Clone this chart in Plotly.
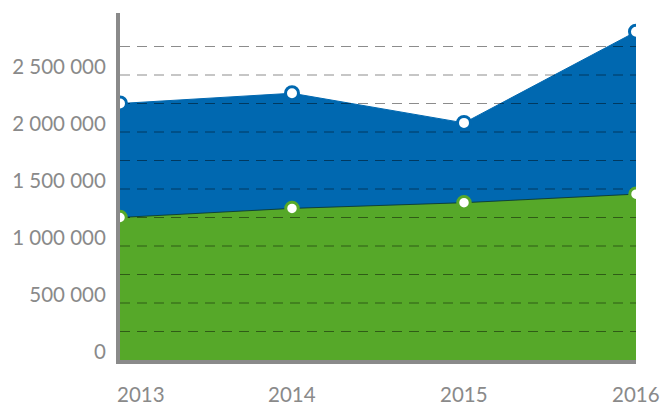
import plotly.graph_objects as go

years = [2013, 2014, 2015, 2016]
year_labels = ["2013", "2014", "2015", "2016"]
blue_values = [2250000, 2340000, 2080000, 2880000]
green_values = [1250000, 1330000, 1380000, 1455000]
y_tick_values = [0, 500000, 1000000, 1500000, 2000000, 2500000]
y_tick_labels = ["0", "500 000", "1 000 000", "1 500 000", "2 000 000", "2 500 000"]
grid_values = [250000, 500000, 750000, 1000000, 1250000, 1500000, 1750000,
               2000000, 2250000, 2500000, 2750000]

BLUE = "#0068b0"
GREEN = "#56a829"
GRAY = "#8a8a8a"

fig = go.Figure()

# filled areas
fig.add_trace(go.Scatter(x=years, y=blue_values, mode="lines", fill="tozeroy",
                         fillcolor=BLUE, line=dict(color=BLUE, width=1),
                         hoverinfo="skip", showlegend=False))
fig.add_trace(go.Scatter(x=years, y=green_values, mode="lines", fill="tozeroy",
                         fillcolor=GREEN, line=dict(color="rgba(10,50,40,0.8)", width=1),
                         hoverinfo="skip", showlegend=False))

# dashed grid lines drawn over the fills
gx, gy = [], []
for v in grid_values:
    gx += [years[0], years[-1], None]
    gy += [v, v, None]
fig.add_trace(go.Scatter(x=gx, y=gy, mode="lines",
                         line=dict(color="rgba(0,0,0,0.45)", width=1.2, dash="10px,7px"),
                         hoverinfo="skip", showlegend=False))

# markers
fig.add_trace(go.Scatter(x=years, y=blue_values, mode="markers",
                         marker=dict(size=13, color="white", line=dict(color=BLUE, width=3)),
                         showlegend=False))
fig.add_trace(go.Scatter(x=years, y=green_values, mode="markers",
                         marker=dict(size=12.5, color="white", line=dict(color=GREEN, width=3)),
                         showlegend=False))

# x labels
for i, (yr, lab) in enumerate(zip(years, year_labels)):
    fig.add_annotation(x=yr, y=0, yref="paper", text=lab, showarrow=False,
                       xanchor="left" if i == 0 else "center", yanchor="middle",
                       xshift=-5 if i == 0 else 0, yshift=-34,
                       font=dict(family="Lato", size=20.5, color=GRAY))

fig.update_xaxes(range=[years[0], years[-1]], showgrid=False, zeroline=False,
                 showticklabels=False, showline=True, linecolor=GRAY, linewidth=4)
fig.update_yaxes(range=[0, 3044000], showgrid=False, zeroline=False,
                 tickvals=y_tick_values, ticktext=y_tick_labels,
                 tickfont=dict(family="Lato", size=20.5, color=GRAY),
                 showline=True, linecolor=GRAY, linewidth=4,
                 ticklabelstandoff=6, ticklabelshift=-8)

fig.update_layout(width=662, height=405,
                  margin=dict(l=117, r=26, t=13, b=45),
                  plot_bgcolor="white", paper_bgcolor="white")

fig.write_html("out.html", config={"displayModeBar": False},
               post_script="document.body.style.margin='0';document.body.style.overflow='hidden';")
